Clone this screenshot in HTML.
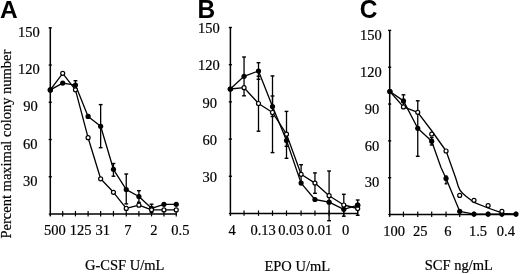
<!DOCTYPE html>
<html><head><meta charset="utf-8"><style>
html,body{margin:0;padding:0;background:#fff;width:520px;height:274px;overflow:hidden}
svg{display:block;will-change:transform}
</style></head><body>
<svg width="520" height="274" viewBox="0 0 520 274" stroke="#000" fill="#000">
<g fill="#000" stroke="none">
</g>
<line x1="50.30" y1="27.80" x2="50.30" y2="214.70" stroke-width="1.5"/>
<line x1="50.30" y1="214.00" x2="177.00" y2="214.00" stroke-width="1.5"/>
<line x1="48.70" y1="176.76" x2="51.80" y2="176.76" stroke-width="1.4"/>
<line x1="48.70" y1="139.52" x2="51.80" y2="139.52" stroke-width="1.4"/>
<line x1="48.70" y1="102.28" x2="51.80" y2="102.28" stroke-width="1.4"/>
<line x1="48.70" y1="65.04" x2="51.80" y2="65.04" stroke-width="1.4"/>
<line x1="48.70" y1="27.80" x2="51.80" y2="27.80" stroke-width="1.4"/>
<line x1="48.80" y1="214.00" x2="50.30" y2="214.00" stroke-width="1.2"/>
<line x1="50.30" y1="214.00" x2="50.30" y2="216.40" stroke-width="1.5"/>
<line x1="62.70" y1="211.00" x2="62.70" y2="216.40" stroke-width="1.2"/>
<line x1="75.45" y1="211.00" x2="75.45" y2="216.40" stroke-width="1.2"/>
<line x1="88.10" y1="211.00" x2="88.10" y2="216.40" stroke-width="1.2"/>
<line x1="100.65" y1="211.00" x2="100.65" y2="216.40" stroke-width="1.2"/>
<line x1="113.45" y1="211.00" x2="113.45" y2="216.40" stroke-width="1.2"/>
<line x1="126.25" y1="211.00" x2="126.25" y2="216.40" stroke-width="1.2"/>
<line x1="138.90" y1="211.00" x2="138.90" y2="216.40" stroke-width="1.2"/>
<line x1="151.55" y1="211.00" x2="151.55" y2="216.40" stroke-width="1.2"/>
<line x1="163.95" y1="211.00" x2="163.95" y2="216.40" stroke-width="1.2"/>
<line x1="176.25" y1="211.00" x2="176.25" y2="216.40" stroke-width="1.2"/>
<line x1="75.45" y1="80.70" x2="75.45" y2="89.50" stroke-width="1.3"/>
<line x1="73.55" y1="80.70" x2="77.35" y2="80.70" stroke-width="1.4"/>
<line x1="73.55" y1="89.50" x2="77.35" y2="89.50" stroke-width="1.4"/>
<line x1="100.65" y1="104.60" x2="100.65" y2="147.70" stroke-width="1.3"/>
<line x1="98.75" y1="104.60" x2="102.55" y2="104.60" stroke-width="1.4"/>
<line x1="98.75" y1="147.70" x2="102.55" y2="147.70" stroke-width="1.4"/>
<line x1="113.45" y1="163.50" x2="113.45" y2="176.20" stroke-width="1.3"/>
<line x1="111.55" y1="163.50" x2="115.35" y2="163.50" stroke-width="1.4"/>
<line x1="111.55" y1="176.20" x2="115.35" y2="176.20" stroke-width="1.4"/>
<line x1="126.25" y1="174.00" x2="126.25" y2="203.90" stroke-width="1.3"/>
<line x1="124.35" y1="174.00" x2="128.15" y2="174.00" stroke-width="1.4"/>
<line x1="124.35" y1="203.90" x2="128.15" y2="203.90" stroke-width="1.4"/>
<line x1="138.90" y1="190.70" x2="138.90" y2="202.30" stroke-width="1.3"/>
<line x1="137.00" y1="190.70" x2="140.80" y2="190.70" stroke-width="1.4"/>
<line x1="137.00" y1="202.30" x2="140.80" y2="202.30" stroke-width="1.4"/>
<line x1="151.55" y1="204.20" x2="151.55" y2="212.50" stroke-width="1.3"/>
<line x1="149.65" y1="204.20" x2="153.45" y2="204.20" stroke-width="1.4"/>
<line x1="149.65" y1="212.50" x2="153.45" y2="212.50" stroke-width="1.4"/>
<polyline points="50.30,89.90 62.70,83.10 75.45,85.10 88.10,116.40 100.65,126.30 113.45,169.30 126.25,189.60 138.90,196.50 151.55,208.30 163.95,204.30 176.25,204.30" fill="none" stroke-width="1.3" stroke-linejoin="round"/>
<polyline points="50.30,89.90 62.70,73.30 75.45,89.80 88.10,137.70 100.65,178.80 113.45,192.30 126.25,208.40 138.90,205.20 151.55,209.80 163.95,209.90 176.25,209.90" fill="none" stroke-width="1.3" stroke-linejoin="round"/>
<circle cx="50.30" cy="89.90" r="2.6" fill="#000" stroke="none"/>
<circle cx="62.70" cy="83.10" r="2.6" fill="#000" stroke="none"/>
<circle cx="75.45" cy="85.10" r="2.6" fill="#000" stroke="none"/>
<circle cx="88.10" cy="116.40" r="2.6" fill="#000" stroke="none"/>
<circle cx="100.65" cy="126.30" r="2.6" fill="#000" stroke="none"/>
<circle cx="113.45" cy="169.30" r="2.6" fill="#000" stroke="none"/>
<circle cx="126.25" cy="189.60" r="2.6" fill="#000" stroke="none"/>
<circle cx="138.90" cy="196.50" r="2.6" fill="#000" stroke="none"/>
<circle cx="151.55" cy="208.30" r="2.6" fill="#000" stroke="none"/>
<circle cx="163.95" cy="204.30" r="2.6" fill="#000" stroke="none"/>
<circle cx="176.25" cy="204.30" r="2.6" fill="#000" stroke="none"/>
<circle cx="62.70" cy="73.30" r="2.0" fill="#fff" stroke-width="1.2"/>
<circle cx="75.45" cy="89.80" r="2.0" fill="#fff" stroke-width="1.2"/>
<circle cx="88.10" cy="137.70" r="2.0" fill="#fff" stroke-width="1.2"/>
<circle cx="100.65" cy="178.80" r="2.0" fill="#fff" stroke-width="1.2"/>
<circle cx="113.45" cy="192.30" r="2.0" fill="#fff" stroke-width="1.2"/>
<circle cx="126.25" cy="208.40" r="2.0" fill="#fff" stroke-width="1.2"/>
<circle cx="138.90" cy="205.20" r="2.0" fill="#fff" stroke-width="1.2"/>
<circle cx="151.55" cy="209.80" r="2.0" fill="#fff" stroke-width="1.2"/>
<circle cx="163.95" cy="209.90" r="2.0" fill="#fff" stroke-width="1.2"/>
<circle cx="176.25" cy="209.90" r="2.0" fill="#fff" stroke-width="1.2"/>
<circle cx="50.30" cy="89.90" r="2.6" fill="#000" stroke="none"/>
<line x1="230.40" y1="27.50" x2="230.40" y2="214.15" stroke-width="1.5"/>
<line x1="230.40" y1="213.45" x2="357.70" y2="213.45" stroke-width="1.5"/>
<line x1="228.80" y1="176.26" x2="231.90" y2="176.26" stroke-width="1.4"/>
<line x1="228.80" y1="139.07" x2="231.90" y2="139.07" stroke-width="1.4"/>
<line x1="228.80" y1="101.88" x2="231.90" y2="101.88" stroke-width="1.4"/>
<line x1="228.80" y1="64.69" x2="231.90" y2="64.69" stroke-width="1.4"/>
<line x1="228.80" y1="27.50" x2="231.90" y2="27.50" stroke-width="1.4"/>
<line x1="228.90" y1="213.45" x2="230.40" y2="213.45" stroke-width="1.2"/>
<line x1="230.40" y1="213.45" x2="230.40" y2="215.85" stroke-width="1.5"/>
<line x1="244.05" y1="210.45" x2="244.05" y2="215.85" stroke-width="1.2"/>
<line x1="258.50" y1="210.45" x2="258.50" y2="215.85" stroke-width="1.2"/>
<line x1="272.50" y1="210.45" x2="272.50" y2="215.85" stroke-width="1.2"/>
<line x1="286.50" y1="210.45" x2="286.50" y2="215.85" stroke-width="1.2"/>
<line x1="301.10" y1="210.45" x2="301.10" y2="215.85" stroke-width="1.2"/>
<line x1="314.95" y1="210.45" x2="314.95" y2="215.85" stroke-width="1.2"/>
<line x1="329.10" y1="210.45" x2="329.10" y2="215.85" stroke-width="1.2"/>
<line x1="343.80" y1="210.45" x2="343.80" y2="215.85" stroke-width="1.2"/>
<line x1="357.70" y1="210.45" x2="357.70" y2="215.85" stroke-width="1.2"/>
<line x1="244.05" y1="57.00" x2="244.05" y2="95.80" stroke-width="1.3"/>
<line x1="242.15" y1="57.00" x2="245.95" y2="57.00" stroke-width="1.4"/>
<line x1="242.15" y1="95.80" x2="245.95" y2="95.80" stroke-width="1.4"/>
<line x1="258.50" y1="62.70" x2="258.50" y2="79.30" stroke-width="1.3"/>
<line x1="256.60" y1="62.70" x2="260.40" y2="62.70" stroke-width="1.4"/>
<line x1="256.60" y1="79.30" x2="260.40" y2="79.30" stroke-width="1.4"/>
<line x1="258.50" y1="76.20" x2="258.50" y2="131.20" stroke-width="1.3"/>
<line x1="256.60" y1="76.20" x2="260.40" y2="76.20" stroke-width="1.4"/>
<line x1="256.60" y1="131.20" x2="260.40" y2="131.20" stroke-width="1.4"/>
<line x1="272.50" y1="75.90" x2="272.50" y2="152.60" stroke-width="1.3"/>
<line x1="270.60" y1="75.90" x2="274.40" y2="75.90" stroke-width="1.4"/>
<line x1="270.60" y1="152.60" x2="274.40" y2="152.60" stroke-width="1.4"/>
<line x1="272.50" y1="96.00" x2="272.50" y2="116.50" stroke-width="1.3"/>
<line x1="270.60" y1="96.00" x2="274.40" y2="96.00" stroke-width="1.4"/>
<line x1="270.60" y1="116.50" x2="274.40" y2="116.50" stroke-width="1.4"/>
<line x1="286.50" y1="111.40" x2="286.50" y2="158.30" stroke-width="1.3"/>
<line x1="284.60" y1="111.40" x2="288.40" y2="111.40" stroke-width="1.4"/>
<line x1="284.60" y1="158.30" x2="288.40" y2="158.30" stroke-width="1.4"/>
<line x1="286.50" y1="134.50" x2="286.50" y2="146.30" stroke-width="1.3"/>
<line x1="284.60" y1="134.50" x2="288.40" y2="134.50" stroke-width="1.4"/>
<line x1="284.60" y1="146.30" x2="288.40" y2="146.30" stroke-width="1.4"/>
<line x1="301.10" y1="164.70" x2="301.10" y2="183.90" stroke-width="1.3"/>
<line x1="299.20" y1="164.70" x2="303.00" y2="164.70" stroke-width="1.4"/>
<line x1="299.20" y1="183.90" x2="303.00" y2="183.90" stroke-width="1.4"/>
<line x1="314.95" y1="172.90" x2="314.95" y2="193.30" stroke-width="1.3"/>
<line x1="313.05" y1="172.90" x2="316.85" y2="172.90" stroke-width="1.4"/>
<line x1="313.05" y1="193.30" x2="316.85" y2="193.30" stroke-width="1.4"/>
<line x1="329.10" y1="171.00" x2="329.10" y2="220.70" stroke-width="1.3"/>
<line x1="327.20" y1="171.00" x2="331.00" y2="171.00" stroke-width="1.4"/>
<line x1="327.20" y1="220.70" x2="331.00" y2="220.70" stroke-width="1.4"/>
<line x1="343.80" y1="194.30" x2="343.80" y2="216.20" stroke-width="1.3"/>
<line x1="341.90" y1="194.30" x2="345.70" y2="194.30" stroke-width="1.4"/>
<line x1="341.90" y1="216.20" x2="345.70" y2="216.20" stroke-width="1.4"/>
<line x1="357.70" y1="200.00" x2="357.70" y2="215.30" stroke-width="1.3"/>
<line x1="355.80" y1="200.00" x2="359.60" y2="200.00" stroke-width="1.4"/>
<line x1="355.80" y1="215.30" x2="359.60" y2="215.30" stroke-width="1.4"/>
<polyline points="230.30,89.00 244.05,76.30 258.50,71.00 272.50,106.50 286.50,140.50 301.10,183.10 314.95,199.50 329.10,202.20 343.80,209.30 357.70,205.20" fill="none" stroke-width="1.3" stroke-linejoin="round"/>
<polyline points="230.30,89.00 244.05,87.70 258.50,103.50 272.50,112.50 286.50,134.20 301.10,174.30 314.95,183.10 329.10,195.70 343.80,205.00 357.70,208.50" fill="none" stroke-width="1.3" stroke-linejoin="round"/>
<circle cx="230.30" cy="89.00" r="2.6" fill="#000" stroke="none"/>
<circle cx="244.05" cy="76.30" r="2.6" fill="#000" stroke="none"/>
<circle cx="258.50" cy="71.00" r="2.6" fill="#000" stroke="none"/>
<circle cx="272.50" cy="106.50" r="2.6" fill="#000" stroke="none"/>
<circle cx="286.50" cy="140.50" r="2.6" fill="#000" stroke="none"/>
<circle cx="301.10" cy="183.10" r="2.6" fill="#000" stroke="none"/>
<circle cx="314.95" cy="199.50" r="2.6" fill="#000" stroke="none"/>
<circle cx="329.10" cy="202.20" r="2.6" fill="#000" stroke="none"/>
<circle cx="343.80" cy="209.30" r="2.6" fill="#000" stroke="none"/>
<circle cx="357.70" cy="205.20" r="2.6" fill="#000" stroke="none"/>
<circle cx="244.05" cy="87.70" r="2.0" fill="#fff" stroke-width="1.2"/>
<circle cx="258.50" cy="103.50" r="2.0" fill="#fff" stroke-width="1.2"/>
<circle cx="272.50" cy="112.50" r="2.0" fill="#fff" stroke-width="1.2"/>
<circle cx="286.50" cy="134.20" r="2.0" fill="#fff" stroke-width="1.2"/>
<circle cx="301.10" cy="174.30" r="2.0" fill="#fff" stroke-width="1.2"/>
<circle cx="314.95" cy="183.10" r="2.0" fill="#fff" stroke-width="1.2"/>
<circle cx="329.10" cy="195.70" r="2.0" fill="#fff" stroke-width="1.2"/>
<circle cx="343.80" cy="205.00" r="2.0" fill="#fff" stroke-width="1.2"/>
<circle cx="357.70" cy="208.50" r="2.0" fill="#fff" stroke-width="1.2"/>
<circle cx="230.30" cy="89.00" r="2.6" fill="#000" stroke="none"/>
<circle cx="357.70" cy="205.20" r="2.6" fill="#000" stroke="none"/>
<line x1="389.70" y1="30.40" x2="389.70" y2="215.20" stroke-width="1.5"/>
<line x1="389.70" y1="214.50" x2="517.50" y2="214.50" stroke-width="1.5"/>
<line x1="388.10" y1="177.68" x2="391.20" y2="177.68" stroke-width="1.4"/>
<line x1="388.10" y1="140.86" x2="391.20" y2="140.86" stroke-width="1.4"/>
<line x1="388.10" y1="104.04" x2="391.20" y2="104.04" stroke-width="1.4"/>
<line x1="388.10" y1="67.22" x2="391.20" y2="67.22" stroke-width="1.4"/>
<line x1="388.10" y1="30.40" x2="391.20" y2="30.40" stroke-width="1.4"/>
<line x1="388.20" y1="214.50" x2="389.70" y2="214.50" stroke-width="1.2"/>
<line x1="389.70" y1="214.50" x2="389.70" y2="216.90" stroke-width="1.5"/>
<line x1="403.45" y1="211.50" x2="403.45" y2="216.90" stroke-width="1.2"/>
<line x1="417.75" y1="211.50" x2="417.75" y2="216.90" stroke-width="1.2"/>
<line x1="431.70" y1="211.50" x2="431.70" y2="216.90" stroke-width="1.2"/>
<line x1="446.05" y1="211.50" x2="446.05" y2="216.90" stroke-width="1.2"/>
<line x1="459.70" y1="211.50" x2="459.70" y2="216.90" stroke-width="1.2"/>
<line x1="474.00" y1="211.50" x2="474.00" y2="216.90" stroke-width="1.2"/>
<line x1="488.10" y1="211.50" x2="488.10" y2="216.90" stroke-width="1.2"/>
<line x1="501.90" y1="211.50" x2="501.90" y2="216.90" stroke-width="1.2"/>
<line x1="516.00" y1="211.50" x2="516.00" y2="216.90" stroke-width="1.2"/>
<line x1="403.45" y1="94.80" x2="403.45" y2="107.00" stroke-width="1.3"/>
<line x1="401.55" y1="94.80" x2="405.35" y2="94.80" stroke-width="1.4"/>
<line x1="401.55" y1="107.00" x2="405.35" y2="107.00" stroke-width="1.4"/>
<line x1="417.75" y1="100.80" x2="417.75" y2="156.30" stroke-width="1.3"/>
<line x1="415.85" y1="100.80" x2="419.65" y2="100.80" stroke-width="1.4"/>
<line x1="415.85" y1="156.30" x2="419.65" y2="156.30" stroke-width="1.4"/>
<line x1="431.70" y1="137.50" x2="431.70" y2="145.00" stroke-width="1.3"/>
<line x1="429.80" y1="137.50" x2="433.60" y2="137.50" stroke-width="1.4"/>
<line x1="429.80" y1="145.00" x2="433.60" y2="145.00" stroke-width="1.4"/>
<line x1="446.05" y1="176.00" x2="446.05" y2="183.80" stroke-width="1.3"/>
<line x1="444.65" y1="176.00" x2="447.45" y2="176.00" stroke-width="1.4"/>
<line x1="444.65" y1="183.80" x2="447.45" y2="183.80" stroke-width="1.4"/>
<polyline points="389.90,91.50 403.45,100.90 417.75,128.30 431.70,141.20 440.90,167.30 446.05,178.40 459.70,211.30 474.00,214.10 488.10,214.10 501.90,214.10 516.00,214.10" fill="none" stroke-width="1.3" stroke-linejoin="round"/>
<path d="M389.90,91.50 L403.45,106.90 L417.75,112.30 L431.50,130.50 L446.10,151.00 L455.70,178.00 L458.30,186.50 Q459.7,190.8 462.6,193.2 L466,196.2 L474,202.4 L488,208.0 L500.5,212.4 L503,213.4 L516,214.3" fill="none" stroke-width="1.3" stroke-linejoin="round"/>
<circle cx="389.90" cy="91.50" r="2.6" fill="#000" stroke="none"/>
<circle cx="403.45" cy="100.90" r="2.6" fill="#000" stroke="none"/>
<circle cx="417.75" cy="128.30" r="2.6" fill="#000" stroke="none"/>
<circle cx="431.70" cy="141.20" r="2.6" fill="#000" stroke="none"/>
<circle cx="446.05" cy="178.40" r="2.6" fill="#000" stroke="none"/>
<circle cx="459.70" cy="211.30" r="2.6" fill="#000" stroke="none"/>
<circle cx="474.00" cy="214.10" r="2.6" fill="#000" stroke="none"/>
<circle cx="488.10" cy="214.10" r="2.6" fill="#000" stroke="none"/>
<circle cx="501.90" cy="214.10" r="2.6" fill="#000" stroke="none"/>
<circle cx="516.00" cy="214.10" r="2.6" fill="#000" stroke="none"/>
<circle cx="403.45" cy="106.90" r="2.0" fill="#fff" stroke-width="1.2"/>
<circle cx="417.75" cy="112.30" r="2.0" fill="#fff" stroke-width="1.2"/>
<circle cx="431.70" cy="134.10" r="2.0" fill="#fff" stroke-width="1.2"/>
<circle cx="446.05" cy="151.00" r="2.0" fill="#fff" stroke-width="1.2"/>
<circle cx="459.70" cy="195.40" r="2.0" fill="#fff" stroke-width="1.2"/>
<circle cx="474.00" cy="200.30" r="2.0" fill="#fff" stroke-width="1.2"/>
<circle cx="488.10" cy="205.60" r="2.0" fill="#fff" stroke-width="1.2"/>
<circle cx="501.90" cy="211.30" r="2.0" fill="#fff" stroke-width="1.2"/>
<circle cx="389.90" cy="91.50" r="2.6" fill="#000" stroke="none"/>
<text x="0" y="0" font-family="Liberation Sans" font-size="24.5" font-weight="bold" stroke="none" transform="translate(0.07,18.00) scale(1,1.0)">A</text>
<text x="0" y="0" font-family="Liberation Sans" font-size="24.5" font-weight="bold" stroke="none" transform="translate(197.52,17.60) scale(1,1.03)">B</text>
<text x="0" y="0" font-family="Liberation Sans" font-size="24.5" font-weight="bold" stroke="none" transform="translate(359.80,18.45) scale(1,1.09)">C</text>
<text stroke="#000" stroke-width="0.2" x="18.05" y="36.7" font-family="Liberation Serif" font-size="14.5" font-weight="normal" text-anchor="start" >150</text>
<text stroke="#000" stroke-width="0.2" x="18.05" y="74.3" font-family="Liberation Serif" font-size="14.5" font-weight="normal" text-anchor="start" >120</text>
<text stroke="#000" stroke-width="0.2" x="23.15" y="111.3" font-family="Liberation Serif" font-size="14.5" font-weight="normal" text-anchor="start" >90</text>
<text stroke="#000" stroke-width="0.2" x="23.03" y="149.0" font-family="Liberation Serif" font-size="14.5" font-weight="normal" text-anchor="start" >60</text>
<text stroke="#000" stroke-width="0.2" x="23.03" y="185.6" font-family="Liberation Serif" font-size="14.5" font-weight="normal" text-anchor="start" >30</text>
<text stroke="#000" stroke-width="0.2" x="198.05" y="33.2" font-family="Liberation Serif" font-size="14.5" font-weight="normal" text-anchor="start" >150</text>
<text stroke="#000" stroke-width="0.2" x="198.05" y="70.4" font-family="Liberation Serif" font-size="14.5" font-weight="normal" text-anchor="start" >120</text>
<text stroke="#000" stroke-width="0.2" x="202.5" y="107.8" font-family="Liberation Serif" font-size="14.5" font-weight="normal" text-anchor="start" >90</text>
<text stroke="#000" stroke-width="0.2" x="202.53" y="145.2" font-family="Liberation Serif" font-size="14.5" font-weight="normal" text-anchor="start" >60</text>
<text stroke="#000" stroke-width="0.2" x="202.62" y="181.6" font-family="Liberation Serif" font-size="14.5" font-weight="normal" text-anchor="start" >30</text>
<text stroke="#000" stroke-width="0.2" x="360.05" y="40.0" font-family="Liberation Serif" font-size="14.5" font-weight="normal" text-anchor="start" >150</text>
<text stroke="#000" stroke-width="0.2" x="360.05" y="76.8" font-family="Liberation Serif" font-size="14.5" font-weight="normal" text-anchor="start" >120</text>
<text stroke="#000" stroke-width="0.2" x="364.85" y="113.6" font-family="Liberation Serif" font-size="14.5" font-weight="normal" text-anchor="start" >90</text>
<text stroke="#000" stroke-width="0.2" x="364.73" y="150.6" font-family="Liberation Serif" font-size="14.5" font-weight="normal" text-anchor="start" >60</text>
<text stroke="#000" stroke-width="0.2" x="364.73" y="187.0" font-family="Liberation Serif" font-size="14.5" font-weight="normal" text-anchor="start" >30</text>
<text stroke="#000" stroke-width="0.2" x="44.0" y="235.0" font-family="Liberation Serif" font-size="14.5" font-weight="normal" text-anchor="start" >500</text>
<text stroke="#000" stroke-width="0.2" x="69.65" y="235.0" font-family="Liberation Serif" font-size="14.5" font-weight="normal" text-anchor="start" >125</text>
<text stroke="#000" stroke-width="0.2" x="95.6" y="235.0" font-family="Liberation Serif" font-size="14.5" font-weight="normal" text-anchor="start" >31</text>
<text stroke="#000" stroke-width="0.2" x="124.22" y="235.0" font-family="Liberation Serif" font-size="14.5" font-weight="normal" text-anchor="start" >7</text>
<text stroke="#000" stroke-width="0.2" x="150.18" y="234.8" font-family="Liberation Serif" font-size="14.5" font-weight="normal" text-anchor="start" >2</text>
<text stroke="#000" stroke-width="0.2" x="171.3" y="234.75" font-family="Liberation Serif" font-size="14.5" font-weight="normal" text-anchor="start" >0.5</text>
<text stroke="#000" stroke-width="0.2" x="228.43" y="234.85" font-family="Liberation Serif" font-size="14.5" font-weight="normal" text-anchor="start" >4</text>
<text stroke="#000" stroke-width="0.2" x="250.38" y="234.7" font-family="Liberation Serif" font-size="14.5" font-weight="normal" text-anchor="start" >0.13</text>
<text stroke="#000" stroke-width="0.2" x="278.27" y="234.7" font-family="Liberation Serif" font-size="14.5" font-weight="normal" text-anchor="start" >0.03</text>
<text stroke="#000" stroke-width="0.2" x="306.75" y="234.7" font-family="Liberation Serif" font-size="14.5" font-weight="normal" text-anchor="start" >0.01</text>
<text stroke="#000" stroke-width="0.2" x="342.12" y="234.85" font-family="Liberation Serif" font-size="14.5" font-weight="normal" text-anchor="start" >0</text>
<text stroke="#000" stroke-width="0.2" x="383.3" y="235.9" font-family="Liberation Serif" font-size="14.5" font-weight="normal" text-anchor="start" >100</text>
<text stroke="#000" stroke-width="0.2" x="412.98" y="235.9" font-family="Liberation Serif" font-size="14.5" font-weight="normal" text-anchor="start" >25</text>
<text stroke="#000" stroke-width="0.2" x="444.3" y="235.9" font-family="Liberation Serif" font-size="14.5" font-weight="normal" text-anchor="start" >6</text>
<text stroke="#000" stroke-width="0.2" x="468.93" y="235.65" font-family="Liberation Serif" font-size="14.5" font-weight="normal" text-anchor="start" >1.5</text>
<text stroke="#000" stroke-width="0.2" x="496.75" y="235.95" font-family="Liberation Serif" font-size="14.5" font-weight="normal" text-anchor="start" >0.4</text>
<text stroke="#000" stroke-width="0.2" x="85.0" y="270.4" font-family="Liberation Serif" font-size="14.5" font-weight="normal" text-anchor="start" >G-CSF U/mL</text>
<text stroke="#000" stroke-width="0.2" x="264.42" y="270.6" font-family="Liberation Serif" font-size="14.5" font-weight="normal" text-anchor="start" >EPO U/mL</text>
<text stroke="#000" stroke-width="0.2" x="424.77" y="269.7" font-family="Liberation Serif" font-size="14.5" font-weight="normal" text-anchor="start" >SCF ng/mL</text>
<text stroke="#000" stroke-width="0.2" x="0" y="0" font-family="Liberation Serif" font-size="14.5" transform="translate(11.0,238.5) rotate(-90)">Percent maximal colony number</text>
</svg>
</body></html>
